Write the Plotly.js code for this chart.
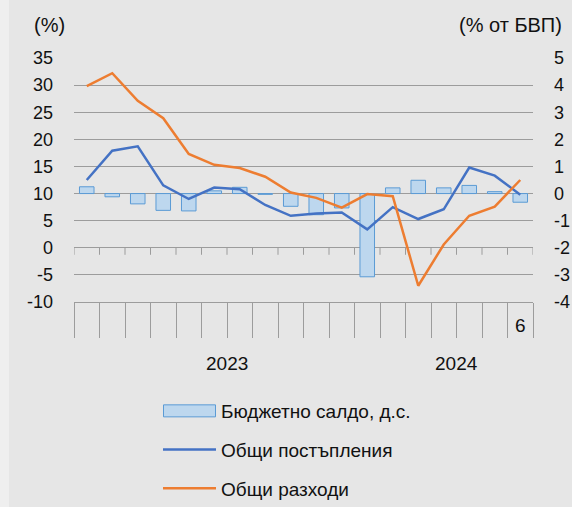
<!DOCTYPE html>
<html>
<head>
<meta charset="utf-8">
<script src="https://cdn.plot.ly/plotly-3.0.1.min.js"></script>
<style>html,body{margin:0;padding:0;background:#E6E6E6;}#chart{width:572px;height:507px;}</style>
</head>
<body>
<div id="chart"></div>
<script>
// ---- data ----
const categories = ["2023-01","2023-02","2023-03","2023-04","2023-05","2023-06","2023-07","2023-08","2023-09","2023-10","2023-11","2023-12","2024-01","2024-02","2024-03","2024-04","2024-05","2024-06"];
const monthLabels = ["","","","","","","","","","","","","","","","","","6"];
const balance = [0.25,-0.12,-0.38,-0.62,-0.64,0.10,0.23,-0.03,-0.47,-0.78,-0.53,-3.07,0.21,0.49,0.21,0.30,0.07,-0.32];
const revenue = [12.5,17.9,18.7,11.5,9.0,11.1,10.8,7.9,5.9,6.3,6.5,3.4,7.5,5.3,7.1,14.8,13.3,9.8];
const expenditure = [29.8,32.2,27.1,23.9,17.3,15.3,14.7,13.1,10.2,9.2,7.4,9.9,9.5,-7.0,0.6,5.9,7.6,12.5];
const seriesNames = ["Бюджетно салдо, д.с.","Общи постъпления","Общи разходи"];
const leftTicks = [-10,-5,0,5,10,15,20,25,30,35];
const rightTicks = [-4,-3,-2,-1,0,1,2,3,4,5];
const leftTitle = "(%)";
const rightTitle = "(% от БВП)";

// ---- derived ----
const xIdx = categories.map((_, i) => i);
const n = categories.length;
const bounds = Array.from({length: n + 1}, (_, i) => i - 0.5);
const yearBounds = [-0.5];
categories.forEach((c, i) => { if (i > 0 && c.slice(0,4) !== categories[i-1].slice(0,4)) yearBounds.push(i - 0.5); });
yearBounds.push(n - 0.5);

const FONT = "Liberation Sans, Arial, sans-serif";
const GRID = "#9C9C9C";
const TXT = "#111";
const LMIN = -10, LMAX = 35;
const PLOT_H = 244;

const traces = [
  {type: "bar", name: seriesNames[0], x: xIdx, y: balance, xaxis: "x", yaxis: "y",
   width: 0.57, marker: {color: "#BDD7EE", line: {color: "#5B9BD5", width: 1}}, legendgroup: "a"},
  {type: "scatter", mode: "lines", name: seriesNames[1], x: xIdx, y: revenue, xaxis: "x", yaxis: "y2",
   line: {color: "#4472C4", width: 2.5}, legendgroup: "b"},
  {type: "scatter", mode: "lines", name: seriesNames[2], x: xIdx, y: expenditure, xaxis: "x", yaxis: "y2",
   line: {color: "#ED7D31", width: 2.5}, legendgroup: "c"}
];

const annotations = [];
for (let k = 0; k < yearBounds.length - 1; k++) {
  annotations.push({xref: "x", yref: "paper", x: (yearBounds[k] + yearBounds[k+1]) / 2, y: -0.25,
    text: categories[Math.round(yearBounds[k] + 0.5)].slice(0,4), showarrow: false, font: {family: FONT, size: 19, color: TXT},
    xanchor: "center", yanchor: "middle"});
}
monthLabels.forEach((m, i) => {
  if (m) annotations.push({xref: "x", yref: "paper", x: i, y: -0.098, text: m, showarrow: false,
    font: {family: FONT, size: 19, color: TXT}, xanchor: "center", yanchor: "middle"});
});
annotations.push({xref: "paper", yref: "paper", x: (49 - 74) / 459, y: 1.135, xanchor: "center", yanchor: "middle", text: leftTitle, showarrow: false, font: {family: FONT, size: 20, color: TXT}});
annotations.push({xref: "paper", yref: "paper", x: (510 - 74) / 459, y: 1.135, xanchor: "center", yanchor: "middle", text: rightTitle, showarrow: false, font: {family: FONT, size: 20, color: TXT}});

// short tick marks hanging from the zero line of the left axis, at each category boundary
const zeroFrac = (0 - LMIN) / (LMAX - LMIN);
const zeroTicks = bounds.map(b => ({type: "line", xref: "x", yref: "paper", x0: b, x1: b,
  y0: zeroFrac, y1: zeroFrac - 7 / PLOT_H, line: {color: GRID, width: 1}, layer: "above"}));

const layout = {
  width: 572, height: 507,
  margin: {l: 74, r: 39, t: 58, b: 205, autoexpand: false},
  paper_bgcolor: "#E6E6E6", plot_bgcolor: "rgba(0,0,0,0)",
  font: {family: FONT, size: 18, color: TXT},
  showlegend: true,
  xaxis: {type: "linear", range: [-0.5, n - 0.5], tickmode: "array", tickvals: bounds, ticks: "outside",
    ticklen: 35, tickcolor: GRID, tickwidth: 1, showticklabels: false, showline: true, linecolor: GRID, linewidth: 1,
    showgrid: false, zeroline: false, anchor: "y", fixedrange: true},
  xaxis3: {type: "linear", range: [-0.5, n - 0.5], overlaying: "x", anchor: "y", side: "bottom",
    tickmode: "array", tickvals: yearBounds, ticks: "outside", ticklen: 68, tickcolor: GRID, tickwidth: 1,
    showticklabels: false, showline: false, showgrid: false, zeroline: false},
  yaxis: {side: "right", range: [-4, 5], tickmode: "array", tickvals: rightTicks, ticktext: rightTicks.map(String),
    showgrid: false, zeroline: false, ticks: "", ticklabelstandoff: 20, showline: false, fixedrange: true, automargin: false},
  yaxis2: {side: "left", overlaying: "y", range: [LMIN, LMAX], tickmode: "array", tickvals: leftTicks, ticktext: leftTicks.map(String),
    showgrid: true, gridcolor: GRID, gridwidth: 1, zeroline: true, zerolinecolor: GRID, zerolinewidth: 1,
    ticks: "", ticklabelstandoff: 20, showline: false, fixedrange: true, automargin: false},
  legend: {x: (158 - 74) / 459, y: (302 - 392) / 244, xanchor: "left", yanchor: "top",
    orientation: "v", traceorder: "grouped", tracegroupgap: 11, bgcolor: "rgba(0,0,0,0)", itemwidth: 53,
    font: {family: FONT, size: 19, color: TXT}},
  annotations: annotations,
  shapes: [{type: "rect", xref: "paper", yref: "paper", x0: -74/459, x1: -65/459, y0: -205/244, y1: 302/244,
    fillcolor: "#EFEFEF", line: {width: 0}, layer: "below"}].concat(zeroTicks)
};

function widenBarSwatch() {
  // widen the bar legend swatch to a long rectangle like the reference
  document.querySelectorAll("#chart .legend .legendpoints path").forEach(function (p) {
    const d = p.getAttribute("d") || "";
    if (/^M6,6H-6V-6H6Z$/.test(d) || p.classList.contains("legendbar")) p.setAttribute("d", "M-26,6H26V-6H-26Z");
  });
}
Plotly.newPlot("chart", traces, layout, {staticPlot: true, displayModeBar: false}).then(function () {
  widenBarSwatch();
  setTimeout(widenBarSwatch, 50);
});
</script>
</body>
</html>
